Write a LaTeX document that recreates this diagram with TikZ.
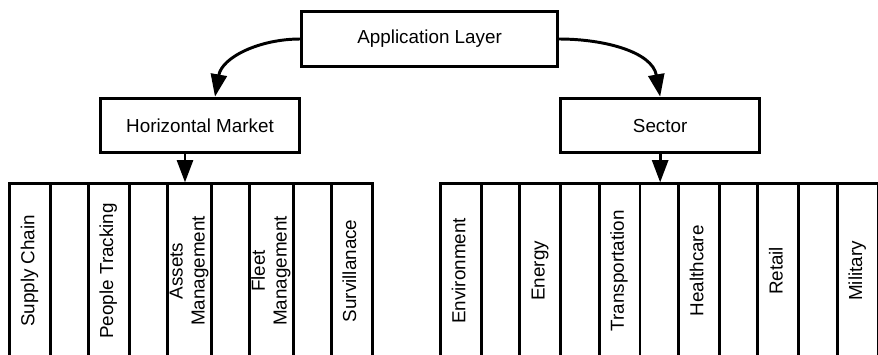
\documentclass[tikz,border=0pt]{standalone}
\usepackage{fontspec}
\setmainfont{Liberation Sans}
\usepackage{graphicx}
\usetikzlibrary{arrows.meta, positioning}
\newcommand{\vtext}[1]{\rotatebox{90}{\begin{tabular}{@{}c@{}}#1\end{tabular}}}

\begin{document}
\begin{tikzpicture}[
  node distance=0.72cm and 0.88cm,
  every node/.style={font=\fontsize{13.4}{15.6}\selectfont},
  layer/.style={rectangle, draw, line width=2.1pt, minimum width=6.4cm, minimum height=1.37cm, align=center},
  market/.style={rectangle, draw, line width=2.1pt, minimum width=4.98cm, minimum height=1.37cm, align=center},
  col/.style={rectangle, draw, line width=2.1pt, minimum width=1.02cm, minimum height=4.35cm, inner sep=0pt},
  arrow/.style={-{Triangle[length=0.56cm, width=0.4cm]}, line width=2.1pt},
  bar/.style={line width=2.1pt}
]
\useasboundingbox (0,0) rectangle (21.95,-8.85);
\clip (0,0) rectangle (21.95,-8.85);

% Top
\node[layer] (app) at (10.74,-0.975) {Application Layer};

\node[market, below=0.72cm of app, xshift=-5.74cm] (hm) {Horizontal Market};
\node[market, right=6.45cm of hm] (sec) {Sector};

% Horizontal market columns
\node[col, anchor=north west] (sc) at (0.2,-4.56) {\vtext{Supply Chain}};
\node[col, right=of sc] (pt) {\vtext{People Tracking}};
\node[col, right=of pt] (am) {\vtext{Assets\\Management}};
\node[col, right=of am] (fm) {\vtext{Fleet\\Management}};
\node[col, right=of fm] (sv) {\vtext{Survillanace}};

% Sector columns
\node[col, anchor=north west] (env) at (10.975,-4.56) {\vtext{Environment}};
\node[col, right=0.89cm of env] (en) {\vtext{Energy}};
\node[col, right=0.89cm of en] (tr) {\vtext{Transportation}};
\node[col, right=0.89cm of tr] (hc) {\vtext{Healthcare}};
\node[col, right=0.89cm of hc] (rt) {\vtext{Retail}};
\node[col, right=0.89cm of rt] (mil) {\vtext{Military}};

\draw[bar] ([yshift=-1pt]sc.north west) -- ([yshift=-1pt]sv.north east);
\draw[bar] ([yshift=-1pt]env.north west) -- ([yshift=-1pt]mil.north east);

% Arrows
\draw[arrow] (app.west) to[out=180, in=80] ([xshift=0.375cm]hm.north);
\draw[arrow] (app.east) to[out=0, in=100] (sec.north);
\draw[arrow] ([xshift=-0.375cm]hm.south) -- ([xshift=-0.375cm]hm.south |- sc.north);
\draw[arrow] (sec.south) -- (sec.south |- env.north);

\end{tikzpicture}
\end{document}
